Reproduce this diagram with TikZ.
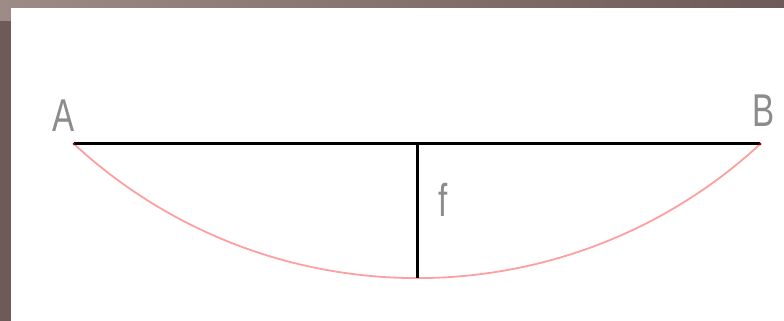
\documentclass[tikz,border=0pt]{standalone}
\usepackage{fontspec}
\setmainfont{Liberation Sans}
\usepackage{xcolor}
\usetikzlibrary{positioning}

\definecolor{frameTop}{HTML}{9C8B86}
\definecolor{frameSide}{HTML}{6E5A58}
\definecolor{arcPink}{HTML}{FFA0A0}
\definecolor{endRed}{HTML}{A00000}

\tikzset{
    beam/.style={line width=3pt, black},
    sagline/.style={line width=3pt, black},
    arcline/.style={line width=1.8pt, arcPink},
    letter/.style={inner sep=0pt, text=black!45, font=\fontsize{46}{46}\selectfont, xscale=0.72}
}

\begin{document}
\begin{tikzpicture}[x=1pt, y=1pt]
    % Frame and paper
    \useasboundingbox (0,0) rectangle (784,321);
    \shade[left color=frameTop, right color=frameSide] (0,0) rectangle (784,321);
    \fill[frameSide] (0,0) rectangle (11,300);
    \fill[white] (11,0) rectangle (784,313);

    % End points of the chord
    \coordinate (ptA) at (74,177);
    \coordinate (ptB) at (760,177);
    \coordinate (mid) at (417,177);
    \coordinate (low) at (417,43);

    % Circular arc under the chord
    \draw[arcline] (ptA) arc[start angle=227.3, end angle=312.7, radius=506];

    % Chord and sagitta
    \draw[beam] (ptA) -- (ptB);
    \draw[sagline] (mid) -- (low);

    % Ends
    \fill[endRed] (ptA) circle (1.5pt);
    \fill[endRed] (ptB) circle (1.5pt);

    % Labels
    \node[letter] (labA) at (64,205) {A};
    \node[letter] (labB) at (764,210) {B};
    \node[letter] (labF) at (443,121) {f};
\end{tikzpicture}
\end{document}
